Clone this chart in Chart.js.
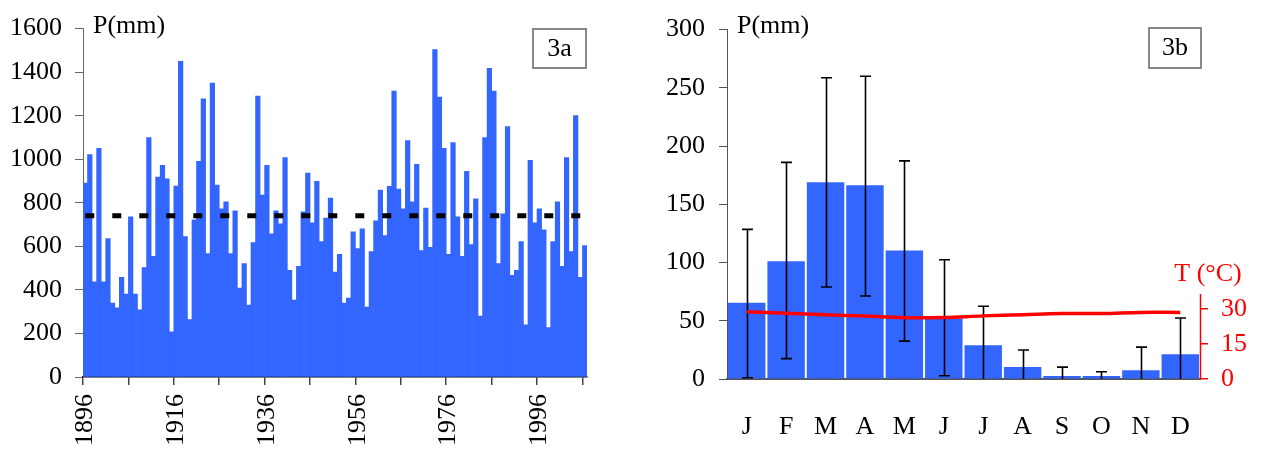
<!DOCTYPE html>
<html>
<head>
<meta charset="utf-8">
<script src="https://cdn.jsdelivr.net/npm/chart.js@4.4.1/dist/chart.umd.min.js"></script>
<style>
  html, body { margin: 0; padding: 0; background: #fff; }
  #wrap { position: relative; width: 1262px; height: 451px; }
  #left { position: absolute; left: 0; top: 0; width: 640px; height: 451px; }
  #right { position: absolute; left: 640px; top: 0; width: 622px; height: 451px; }
</style>
</head>
<body>
<div id="wrap">
  <div id="left"><canvas id="chartA"></canvas></div>
  <div id="right"><canvas id="chartB"></canvas></div>
</div>
<script>
const FONT = "'Liberation Serif', 'Times New Roman', serif";
const BLUE = '#3366ff';
const RED = '#ff0000';

/* 3a - annual precipitation (mm), one bar per year from 1896 */
const firstYear = 1896;
const annualP = [
  890, 1022, 437, 1050, 437, 636, 340, 318, 458, 381,
  736, 381, 309, 503, 1100, 554, 918, 972, 910, 208,
  877, 1450, 645, 264, 722, 990, 1277, 567, 1350, 881,
  772, 804, 567, 763, 408, 521, 330, 617, 1290, 835,
  972, 658, 763, 703, 1008, 490, 353, 508, 758, 936,
  708, 899, 622, 730, 822, 482, 563, 340, 363, 667,
  590, 681, 321, 576, 717, 858, 649, 876, 1313, 863,
  772, 1086, 804, 977, 581, 776, 595, 1504, 1286, 1050,
  563, 1077, 736, 554, 945, 608, 818, 280, 1100, 1418,
  1313, 521, 749, 1150, 467, 490, 622, 240, 995, 708,
  772, 676, 227, 622, 804, 508, 1008, 576, 1200, 458,
  603
];
const meanP = 740;
const yearLabels = annualP.map((v, i) => String(firstYear + i));
const pTicksA = [0, 200, 400, 600, 800, 1000, 1200, 1400, 1600];

/* 3b - monthly precipitation with spread, and mean temperature */
const months = ['J', 'F', 'M', 'A', 'M', 'J', 'J', 'A', 'S', 'O', 'N', 'D'];
const monthlyP = [65.4, 101, 169, 166.4, 110.4, 52, 28.9, 10.2, 2.5, 2.5, 7.6, 21.2];
const monthlyPHigh = [128.5, 186, 258.6, 260, 187.3, 102.4, 62.5, 24.9, 10.2, 6.2, 27.4, 52.4];
const monthlyPLow = [1.1, 17.5, 79, 71.3, 32.5, 2.8, 0, 0, 0, 0, 0, 0];
const monthlyT = [28.9, 28.2, 27.6, 27.0, 26.3, 26.4, 27.1, 27.6, 28.1, 28.1, 28.6, 28.6];
const tTicks = [0, 15, 30];
const tAxisTop = 36.5;   // red axis line stops here

/* Text and frame for panel 3a */
const panelA = {
  id: 'panelA',
  afterDraw(chart) {
    const ctx = chart.ctx;
    ctx.save();
    ctx.fillStyle = '#000';
    ctx.font = '26px ' + FONT;
    ctx.textAlign = 'left';
    ctx.textBaseline = 'alphabetic';
    ctx.fillText('P(mm)', 93, 33);
    ctx.strokeStyle = '#888';
    ctx.lineWidth = 2;
    ctx.strokeRect(533, 29, 53, 39);
    ctx.textAlign = 'center';
    ctx.textBaseline = 'middle';
    ctx.fillText('3a', 559.5, 49);
    ctx.restore();
  }
};

/* Error bars, red temperature axis line and texts for panel 3b */
const panelB = {
  id: 'panelB',
  afterDatasetDraw(chart, args) {
    if (args.index !== 0) return;
    const ctx = chart.ctx;
    const x = chart.scales.x, y = chart.scales.y;
    ctx.save();
    ctx.strokeStyle = '#000';
    ctx.lineWidth = 1.6;
    monthlyPHigh.forEach((hi, i) => {
      const px = Math.round(x.getPixelForValue(i)) + 0.5;
      const top = y.getPixelForValue(hi);
      const bot = y.getPixelForValue(monthlyPLow[i]);
      ctx.beginPath();
      ctx.moveTo(px, top);
      ctx.lineTo(px, bot);
      ctx.moveTo(px - 5.5, top);
      ctx.lineTo(px + 5.5, top);
      if (monthlyPLow[i] > 0) {
        ctx.moveTo(px - 5.5, bot);
        ctx.lineTo(px + 5.5, bot);
      }
      ctx.stroke();
    });
    ctx.restore();
  },
  afterDraw(chart) {
    const ctx = chart.ctx;
    const t = chart.scales.y2;
    ctx.save();
    ctx.strokeStyle = RED;
    ctx.lineWidth = 1.5;
    ctx.beginPath();
    ctx.moveTo(t.left + 0.5, t.getPixelForValue(0));
    ctx.lineTo(t.left + 0.5, t.getPixelForValue(tAxisTop));
    ctx.stroke();

    ctx.fillStyle = '#000';
    ctx.font = '26px ' + FONT;
    ctx.textAlign = 'left';
    ctx.fillText('P(mm)', 97, 33);
    ctx.strokeStyle = '#888';
    ctx.lineWidth = 2;
    ctx.strokeRect(509, 28, 52, 40);
    ctx.textAlign = 'center';
    ctx.textBaseline = 'middle';
    ctx.fillText('3b', 535, 48);
    ctx.fillStyle = RED;
    ctx.fillText('T (\u00B0C)', 568, 274);
    ctx.restore();
  }
};

new Chart(document.getElementById('chartA'), {
  type: 'bar',
  data: {
    labels: yearLabels,
    datasets: [
      {
        type: 'bar',
        data: annualP,
        backgroundColor: BLUE,
        barPercentage: 1,
        categoryPercentage: 1,
        order: 2
      },
      {
        type: 'line',
        data: yearLabels.map(() => meanP),
        borderColor: '#000',
        borderWidth: 5,
        borderDash: [9, 18],
        pointRadius: 0,
        order: 1
      }
    ]
  },
  options: {
    animation: false,
    responsive: true,
    maintainAspectRatio: false,
    layout: { padding: { top: 25, right: 53, left: 0, bottom: 0 } },
    plugins: { legend: { display: false }, tooltip: { enabled: false } },
    scales: {
      x: {
        grid: {
          offset: true,
          drawOnChartArea: false,
          tickLength: 8,
          lineWidth: 1.5,
          color: c => (c.index % 10 === 0 ? '#444' : 'rgba(0,0,0,0)')
        },
        border: { color: '#000', width: 1.5 },
        ticks: {
          autoSkip: false,
          minRotation: 90,
          maxRotation: 90,
          padding: 9,
          color: '#000',
          font: { family: FONT, size: 26 },
          callback: (v, i) => (i % 20 === 0 ? yearLabels[i] : '')
        },
        afterFit: s => { s.height = 74; }
      },
      y: {
        min: 0,
        max: 1600,
        afterBuildTicks: s => { s.ticks = pTicksA.map(v => ({ value: v })); },
        ticks: {
          padding: 13,
          color: '#000',
          font: { family: FONT, size: 26 },
          callback: v => String(v)
        },
        grid: { drawOnChartArea: false, tickLength: 8, color: '#666' },
        border: { color: '#666' },
        afterFit: s => { s.width = 83; }
      }
    }
  },
  plugins: [panelA]
});

new Chart(document.getElementById('chartB'), {
  type: 'bar',
  data: {
    labels: months,
    datasets: [
      {
        type: 'bar',
        data: monthlyP,
        backgroundColor: BLUE,
        barPercentage: 0.95,
        categoryPercentage: 1,
        yAxisID: 'y',
        order: 2
      },
      {
        type: 'line',
        data: monthlyT,
        yAxisID: 'y2',
        borderColor: RED,
        borderWidth: 3.5,
        pointRadius: 0,
        tension: 0.4,
        order: 1
      }
    ]
  },
  options: {
    animation: false,
    responsive: true,
    maintainAspectRatio: false,
    layout: { padding: { top: 25.7, right: 0, left: 0, bottom: 0 } },
    plugins: { legend: { display: false }, tooltip: { enabled: false } },
    scales: {
      x: {
        grid: { drawOnChartArea: false, drawTicks: false },
        border: { color: '#555', width: 2 },
        ticks: { padding: 33, color: '#000', font: { family: FONT, size: 26 } },
        afterFit: s => { s.height = 72; }
      },
      y: {
        min: 0,
        max: 300,
        ticks: { stepSize: 50, padding: 14, color: '#000', font: { family: FONT, size: 26 } },
        grid: { drawOnChartArea: false, tickLength: 8, color: '#555' },
        border: { color: '#555' },
        afterFit: s => { s.width = 87; }
      },
      y2: {
        position: 'right',
        min: 0,
        max: 150,
        afterBuildTicks: s => { s.ticks = tTicks.map(v => ({ value: v })); },
        ticks: { padding: 13, color: RED, font: { family: FONT, size: 26 } },
        grid: { drawOnChartArea: false, tickLength: 8, color: RED, lineWidth: 1.5 },
        border: { display: false },
        afterFit: s => { s.width = 62; }
      }
    }
  },
  plugins: [panelB]
});
</script>
</body>
</html>
